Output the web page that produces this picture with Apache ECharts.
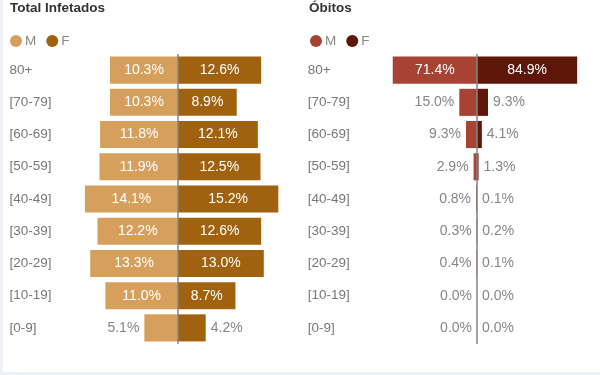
<!DOCTYPE html>
<html>
<head>
<meta charset="utf-8">
<script src="https://cdn.jsdelivr.net/npm/echarts@6/dist/echarts.min.js"></script>
<style>
html,body{margin:0;padding:0;background:#eef2f6;}
#wrap{position:absolute;left:3px;top:0;width:597px;height:372px;background:#fff;}
#chart{position:absolute;left:0;top:0;width:600px;height:375px;}
</style>
</head>
<body>
<div id="wrap"></div>
<div id="chart"></div>
<script>
const categories = ['80+', '[70-79]', '[60-69]', '[50-59]', '[40-49]', '[30-39]', '[20-29]', '[10-19]', '[0-9]'];
const infetadosM = [10.3, 10.3, 11.8, 11.9, 14.1, 12.2, 13.3, 11.0, 5.1];
const infetadosF = [12.6, 8.9, 12.1, 12.5, 15.2, 12.6, 13.0, 8.7, 4.2];
const obitosM = [71.4, 15.0, 9.3, 2.9, 0.8, 0.3, 0.4, 0.0, 0.0];
const obitosF = [84.9, 9.3, 4.1, 1.3, 0.1, 0.2, 0.1, 0.0, 0.0];

const colInfM = '#d6a05c', colInfF = '#a0620f';
const colObM = '#a84333', colObF = '#5e1609';

function mkData(vals, sign, threshold, side) {
  return vals.map(v => {
    const inside = v >= threshold;
    return {
      value: sign * v,
      label: inside
        ? { position: 'inside', color: '#fff' }
        : { position: side, color: '#868686', distance: 5 }
    };
  });
}
const fmt = p => Math.abs(p.value).toFixed(1) + '%';
const FF = 'Liberation Sans, Arial, sans-serif';

const chart = echarts.init(document.getElementById('chart'), null, { renderer: 'canvas' });
const baseY = (gi, m) => ({
  type: 'category', gridIndex: gi, data: categories, inverse: true,
  axisLine: { show: false }, axisTick: { show: false },
  axisLabel: { align: 'left', margin: m, color: '#777', fontSize: 13.5, fontFamily: FF }
});
const labelBase = { show: true, formatter: fmt, fontSize: 14, fontFamily: FF };
const centerLine = {
  silent: true, symbol: 'none', label: { show: false },
  lineStyle: { color: '#858585', width: 1.5, type: 'solid' },
  data: [{ xAxis: 0 }]
};
const legendText = { color: '#888', fontSize: 13.5, fontFamily: FF, padding: [0, 0, 0, -2] };

chart.setOption({
  animation: false,
  title: [
    { text: 'Total Infetados', left: 10, top: 1, padding: 0, textStyle: { fontSize: 13.5, fontWeight: 600, color: '#333', fontFamily: FF } },
    { text: 'Óbitos', left: 309, top: 1, padding: 0, textStyle: { fontSize: 13.5, fontWeight: 600, color: '#333', fontFamily: FF } }
  ],
  legend: [
    { data: ['M', 'F'], left: 10, top: 34, padding: 0, icon: 'circle', itemWidth: 12, itemHeight: 12, itemGap: 10,
      textStyle: legendText, selectedMode: false },
    { data: ['M ', 'F '], left: 310, top: 34, padding: 0, icon: 'circle', itemWidth: 12, itemHeight: 12, itemGap: 10,
      formatter: n => n.trim(), textStyle: legendText, selectedMode: false }
  ],
  grid: [
    { left: 72.4, width: 211.2, top: 54, height: 290 },
    { left: 370.8, width: 212.4, top: 54, height: 290 }
  ],
  xAxis: [
    { type: 'value', gridIndex: 0, min: -16, max: 16, show: false },
    { type: 'value', gridIndex: 1, min: -90, max: 90, show: false }
  ],
  yAxis: [baseY(0, 63), baseY(1, 63)],
  series: [
    { name: 'M', type: 'bar', xAxisIndex: 0, yAxisIndex: 0, barGap: '-100%', barCategoryGap: '16%',
      itemStyle: { color: colInfM }, label: labelBase, data: mkData(infetadosM, -1, 6, 'left') },
    { name: 'F', type: 'bar', xAxisIndex: 0, yAxisIndex: 0, barGap: '-100%', barCategoryGap: '16%',
      itemStyle: { color: colInfF }, label: labelBase, data: mkData(infetadosF, 1, 6, 'right'),
      markLine: centerLine },
    { name: 'M ', type: 'bar', xAxisIndex: 1, yAxisIndex: 1, barGap: '-100%', barCategoryGap: '16%',
      itemStyle: { color: colObM }, label: labelBase, data: mkData(obitosM, -1, 40, 'left') },
    { name: 'F ', type: 'bar', xAxisIndex: 1, yAxisIndex: 1, barGap: '-100%', barCategoryGap: '16%',
      itemStyle: { color: colObF }, label: labelBase, data: mkData(obitosF, 1, 40, 'right'),
      markLine: centerLine }
  ]
});
</script>
</body>
</html>
